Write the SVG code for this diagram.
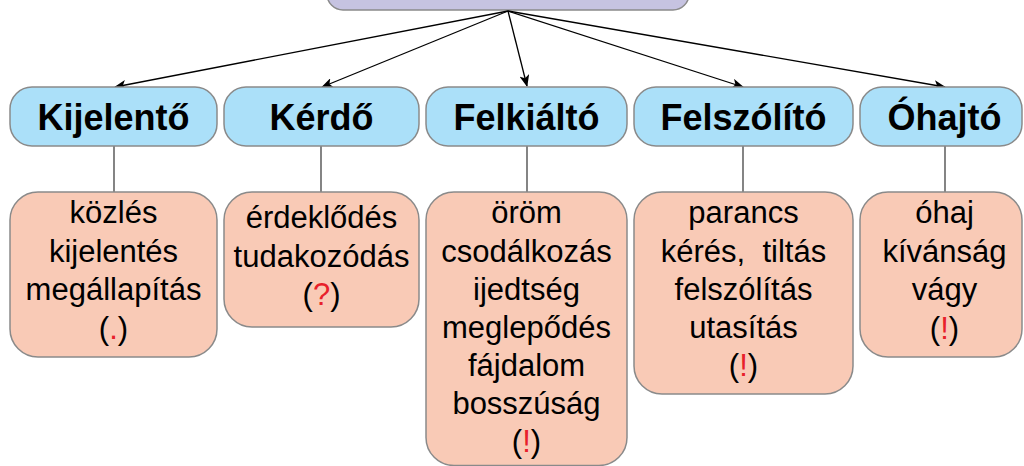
<svg xmlns="http://www.w3.org/2000/svg" width="1024" height="466" viewBox="0 0 1024 466">
<style>
.top{fill:#c6c3e1;stroke:#8a8a8a;stroke-width:1.5}
.hd{fill:#abe0f9;stroke:#8a8a8a;stroke-width:1.5}
.dt{fill:#f9cab6;stroke:#8a8a8a;stroke-width:1.5}
.ht{font-family:"Liberation Sans",Arial,sans-serif;font-weight:bold;font-size:36px;text-anchor:middle;fill:#000}
.tt{font-family:"Liberation Sans",Arial,sans-serif;font-size:31px;text-anchor:middle;fill:#000}
.r{fill:#e8202a}
.arr{stroke:#000;stroke-width:1.3;fill:none;marker-end:url(#ah)}
.ln{stroke:#333;stroke-width:1.2;fill:none}
</style>
<defs>
<marker id="ah" viewBox="0 0 12 10" refX="11" refY="5" markerWidth="12" markerHeight="10" markerUnits="userSpaceOnUse" orient="auto">
<path d="M0,0 L12,5 L0,10 L3,5 z" fill="#000"/>
</marker>
</defs>
<rect width="1024" height="466" fill="#fff"/>
<g id="root"><rect class="top" x="327" y="-40" width="362" height="50" rx="16"/></g>
<g id="connectors">
<line class="arr" x1="508" y1="11" x2="115" y2="87"/>
<line class="arr" x1="508" y1="11" x2="322" y2="87"/>
<line class="arr" x1="508" y1="11" x2="527" y2="86"/>
<line class="arr" x1="508" y1="11" x2="743" y2="87"/>
<line class="arr" x1="508" y1="11" x2="945" y2="87"/>
<line class="ln" x1="114" y1="146" x2="114" y2="192"/>
<line class="ln" x1="321" y1="146" x2="321" y2="192"/>
<line class="ln" x1="527" y1="146" x2="527" y2="192"/>
<line class="ln" x1="743" y1="146" x2="743" y2="192"/>
<line class="ln" x1="945" y1="146" x2="945" y2="192"/>
</g>
<g id="h-kijelento"><rect class="hd" x="10" y="87" width="207" height="59" rx="22"/><text class="ht" x="113.5" y="130">Kijelentő</text></g>
<g id="h-kerdo"><rect class="hd" x="224" y="87" width="195" height="59" rx="22"/><text class="ht" x="321.5" y="130">Kérdő</text></g>
<g id="h-felkialto"><rect class="hd" x="426" y="87" width="201" height="59" rx="22"/><text class="ht" x="526.5" y="130">Felkiáltó</text></g>
<g id="h-felszolito"><rect class="hd" x="634" y="87" width="219" height="59" rx="22"/><text class="ht" x="743.5" y="130">Felszólító</text></g>
<g id="h-ohajto"><rect class="hd" x="860" y="87" width="162" height="59" rx="22"/><text class="ht" x="944.5" y="130">Óhajtó</text></g>
<g id="d-kijelento"><rect class="dt" x="10" y="192" width="207" height="165" rx="28"/>
<text class="tt" x="113.5" y="223">közlés</text>
<text class="tt" x="113.5" y="261.5">kijelentés</text>
<text class="tt" x="113.5" y="300">megállapítás</text>
<text class="tt" x="113.5" y="338.5">(<tspan class="r">.</tspan>)</text></g>
<g id="d-kerdo"><rect class="dt" x="224" y="192" width="195" height="135" rx="28"/>
<text class="tt" x="321.5" y="228">érdeklődés</text>
<text class="tt" x="321.5" y="266.5">tudakozódás</text>
<text class="tt" x="321.5" y="305">(<tspan class="r">?</tspan>)</text></g>
<g id="d-felkialto"><rect class="dt" x="426" y="192" width="201" height="273.5" rx="28"/>
<text class="tt" x="526.5" y="223">öröm</text>
<text class="tt" x="526.5" y="261.5">csodálkozás</text>
<text class="tt" x="526.5" y="300">ijedtség</text>
<text class="tt" x="526.5" y="338">meglepődés</text>
<text class="tt" x="526.5" y="376">fájdalom</text>
<text class="tt" x="526.5" y="414">bosszúság</text>
<text class="tt" x="526.5" y="452">(<tspan class="r">!</tspan>)</text></g>
<g id="d-felszolito"><rect class="dt" x="634" y="192" width="219" height="202" rx="28"/>
<text class="tt" x="743.5" y="223">parancs</text>
<text class="tt" x="743.5" y="261.5" xml:space="preserve">kérés,  tiltás</text>
<text class="tt" x="743.5" y="300">felszólítás</text>
<text class="tt" x="743.5" y="338">utasítás</text>
<text class="tt" x="743.5" y="376">(<tspan class="r">!</tspan>)</text></g>
<g id="d-ohajto"><rect class="dt" x="860" y="192" width="162" height="165" rx="28"/>
<text class="tt" x="944.5" y="223">óhaj</text>
<text class="tt" x="944.5" y="261.5">kívánság</text>
<text class="tt" x="944.5" y="300">vágy</text>
<text class="tt" x="944.5" y="338.5">(<tspan class="r">!</tspan>)</text></g>
</svg>
